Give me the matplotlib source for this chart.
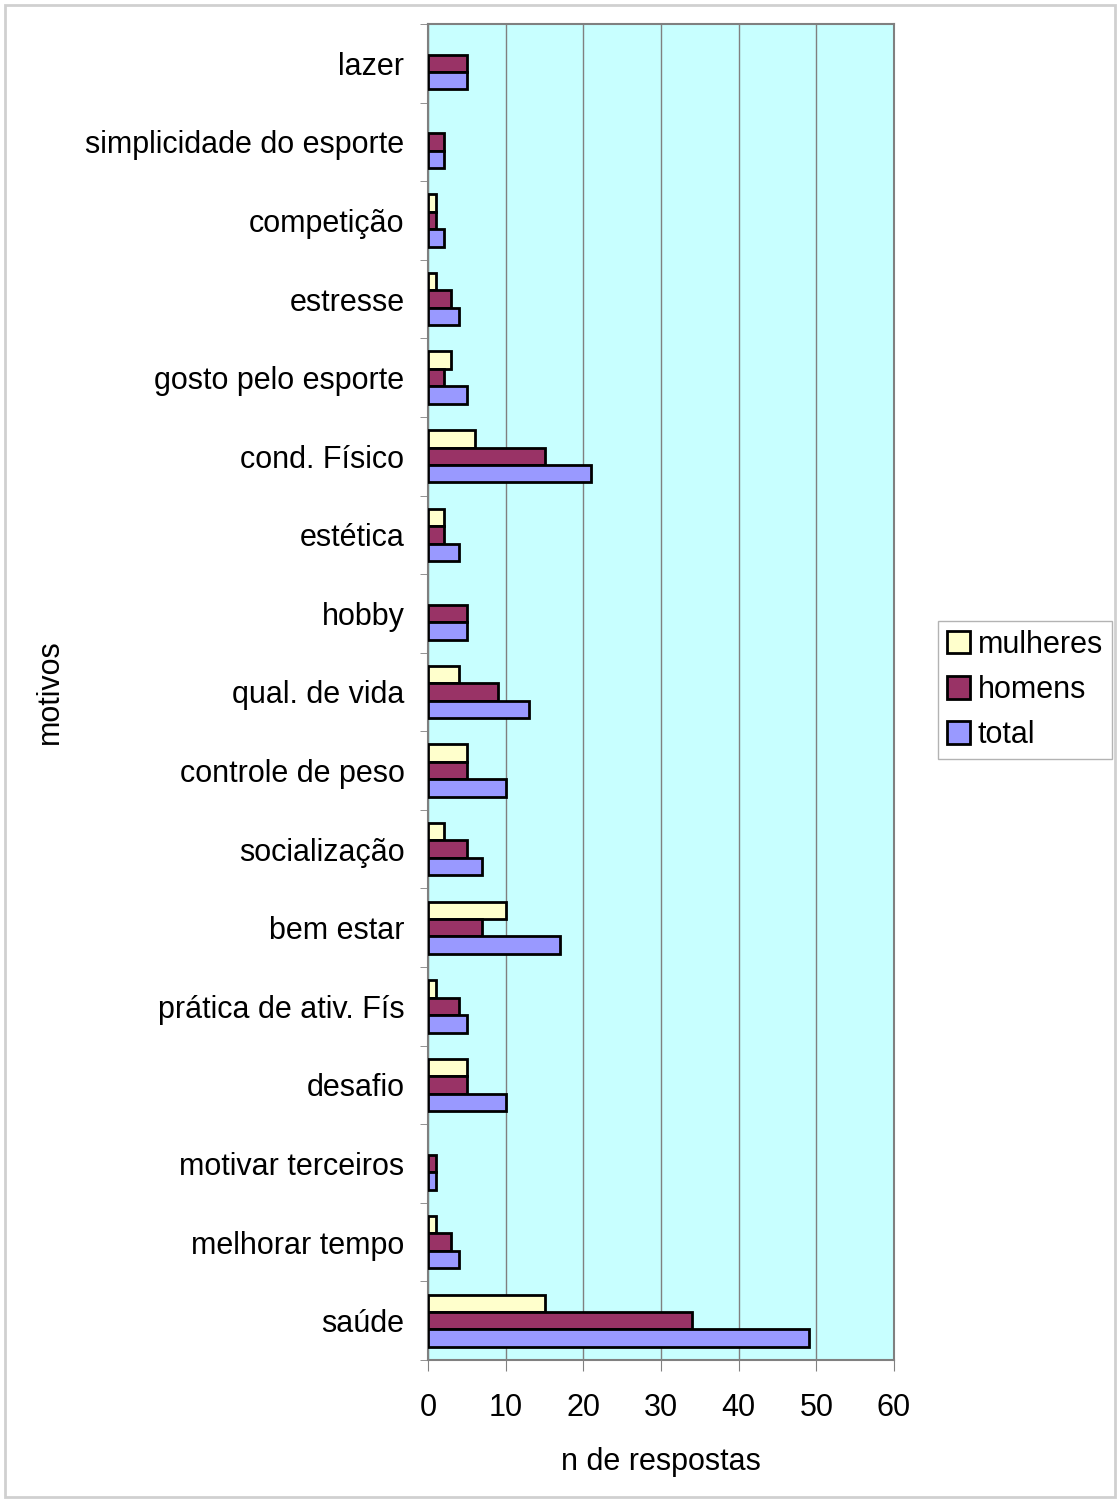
import matplotlib.pyplot as plt
import numpy as np
from matplotlib.patches import Rectangle

plt.rcParams['font.family'] = ['Liberation Sans', 'DejaVu Sans']

# categories from bottom to top
motivos = ['saúde', 'melhorar tempo', 'motivar terceiros', 'desafio',
           'prática de ativ. Fís', 'bem estar', 'socialização',
           'controle de peso', 'qual. de vida', 'hobby', 'estética',
           'cond. Físico', 'gosto pelo esporte', 'estresse', 'competição',
           'simplicidade do esporte', 'lazer']
mulheres = [15, 1, 0, 5, 1, 10, 2, 5, 4, 0, 2, 6, 3, 1, 1, 0, 0]
homens = [34, 3, 1, 5, 4, 7, 5, 5, 9, 5, 2, 15, 2, 3, 1, 2, 5]
total = [49, 4, 1, 10, 5, 17, 7, 10, 13, 5, 4, 21, 5, 4, 2, 2, 5]

fig = plt.figure(figsize=(11.2, 15.02), dpi=100)
ax = fig.add_axes([428/1120, 1 - 1360/1502, (894-428)/1120, (1360-24)/1502])

y = np.arange(len(motivos))
h = 0.222

def lw(vals):
    return [2 if v > 0 else 0 for v in vals]

ax.barh(y + h, mulheres, height=h, color='#FFFFCC', edgecolor='black', linewidth=lw(mulheres), label='mulheres', zorder=3)
ax.barh(y, homens, height=h, color='#993366', edgecolor='black', linewidth=lw(homens), label='homens', zorder=3)
ax.barh(y - h, total, height=h, color='#9999FF', edgecolor='black', linewidth=lw(total), label='total', zorder=3)

ax.set_facecolor('#C8FFFF')
ax.set_xlim(0, 60)
ax.set_ylim(-0.5, len(motivos) - 0.5)
ax.set_xticks(np.arange(0, 61, 10))
ax.xaxis.grid(True, color='#808080', linewidth=1, zorder=0)

ax.set_yticks(y)
ax.set_yticklabels(motivos, fontsize=22)
ax.set_yticks(np.arange(-0.5, len(motivos), 1), minor=True)
ax.tick_params(axis='y', which='major', length=0, pad=17)
ax.tick_params(axis='y', which='minor', length=6, color='#808080')
ax.tick_params(axis='x', labelsize=22, length=8, color='#808080', pad=16)

for s in ax.spines.values():
    s.set_color('#808080')
    s.set_linewidth(1.5)

ax.set_xlabel('n de respostas', fontsize=22, labelpad=17)
ax.set_ylabel('motivos', fontsize=22)
ax.yaxis.set_label_coords(-0.78, 0.5)

leg = ax.legend(loc='center left', bbox_to_anchor=(938/1120, 1 - 690/1502),
                bbox_transform=fig.transFigure, fontsize=22, frameon=True,
                fancybox=False, edgecolor='#A0A0A0', handlelength=0.75,
                handleheight=0.75, handletextpad=0.25, borderpad=0.3,
                labelspacing=0.5, borderaxespad=0)
leg.get_frame().set_linewidth(1)

fig.patches.append(Rectangle((5/1120, 5/1502), 1110/1120, 1492/1502,
                             transform=fig.transFigure, fill=False,
                             edgecolor='#D0D0D0', linewidth=2))

fig.savefig('out.png', dpi=100)
